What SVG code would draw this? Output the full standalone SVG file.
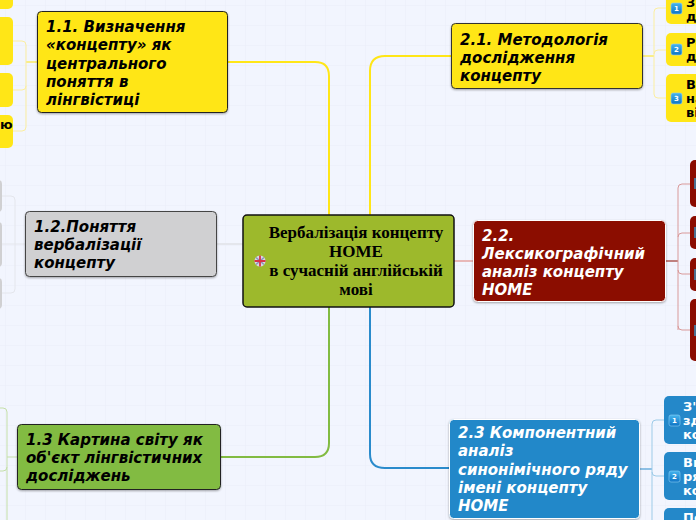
<svg xmlns="http://www.w3.org/2000/svg" width="696" height="520" viewBox="0 0 696 520">
<style>
.t{font-family:"DejaVu Sans",sans-serif;font-weight:bold;font-style:italic;font-size:15px;fill:#000}
.w{fill:#fff}
.s{font-family:"DejaVu Sans",sans-serif;font-weight:bold;font-size:13px;fill:#000}
.c{font-family:"Liberation Serif",serif;font-weight:bold;font-size:17px;fill:#000;text-anchor:middle}
.n{stroke-width:1;filter:url(#sh)}
.l{fill:none;stroke-width:1}
.m{fill:none;stroke-width:2}
.ib{fill:url(#ig);stroke:#8fd0f5;stroke-width:.6}
.it{font-family:"DejaVu Sans",sans-serif;font-weight:bold;font-size:7px;fill:#fff;text-anchor:middle}
</style>
<defs>
<pattern id="g" width="20" height="20" patternUnits="userSpaceOnUse" x="5" y="5"><path d="M20 0H0V20" fill="none" stroke="#e9edf8" stroke-width="1"/></pattern>
<linearGradient id="ig" x1="0" y1="0" x2="0" y2="1"><stop offset="0" stop-color="#45b4ee"/><stop offset="1" stop-color="#0f74c4"/></linearGradient>
<filter id="sh" x="-5%" y="-5%" width="110%" height="115%"><feDropShadow dx="0" dy="1" stdDeviation="1" flood-color="#000" flood-opacity=".35"/></filter>
</defs>
<rect width="696" height="520" fill="#f2f5fe"/>
<rect width="696" height="520" fill="url(#g)"/>
<g id="connectors">
<path class="m" stroke="#ffe617" d="M329 215V76Q329 62 315 62H228"/>
<path class="m" stroke="#ffe617" d="M370 215V71Q370 56 385 56H451"/>
<path class="m" stroke="#e4e6ec" d="M243 244H217"/>
<path class="m" stroke="#e8b8b8" d="M454 261H473"/>
<path class="m" stroke="#82bb42" d="M329 307V443Q329 457 315 457H221"/>
<path class="m" stroke="#2a8bcc" d="M370 307V454Q370 468 385 468H449"/>
<path class="l" stroke="#ffe617" stroke-width="2" d="M37 62H26"/>
<path class="l" stroke="#fbeea0" d="M13 41H22Q26 41 26 45V127Q26 131 22 131H13M26 86Q26 90 22 90H13"/>
<path class="l" stroke="#e4e6ec" d="M25 244H0M2 196H11Q15 196 15 200V289Q15 293 11 293H2"/>
<path class="l" stroke="#c4dfa8" d="M18 457H7M0 408H3Q7 408 7 412V520M7 467Q7 471 3 471H0"/>
<path class="l" stroke="#ffe617" stroke-width="2" d="M643 56H654"/>
<path class="l" stroke="#fbeea0" d="M666 8H658Q654 8 654 12V94Q654 98 658 98H666M654 54Q654 50 658 50H666"/>
<path class="l" stroke="#8b0c00" stroke-width="2" d="M666 261H678"/>
<path class="l" stroke="#d99a9a" d="M690 184H682Q678 184 678 188V330M690 233H682Q678 233 678 237M678 270Q678 274 682 274H690M678 326Q678 330 682 330H690"/>
<path class="l" stroke="#2a8bcc" stroke-width="2" d="M640 469H652"/>
<path class="l" stroke="#9dcbe8" d="M664 420H656Q652 420 652 424V520M652 472Q652 476 656 476H664"/>
</g>
<g id="left-leaf-yellow">
<rect x="-10" y="-10" width="23" height="19" rx="5" fill="#ffe617"/>
<rect x="-10" y="17" width="23" height="48" rx="5" fill="#ffe617"/>
<rect x="-10" y="73" width="23" height="34" rx="5" fill="#ffe617"/>
<rect x="-10" y="115" width="23" height="33" rx="5" fill="#ffe617"/>
<text class="s" x="0" y="129">ю</text>
</g>
<g id="left-leaf-grey">
<rect x="-10" y="180" width="12" height="32" rx="4" fill="#d0d0d2"/>
<rect x="-10" y="222" width="12" height="45" rx="4" fill="#d0d0d2"/>
<rect x="-10" y="278" width="12" height="31" rx="4" fill="#d0d0d2"/>
</g>
<g id="node-1-1">
<rect class="n" x="37.500" y="11.500" width="190" height="101" rx="4" fill="#ffe617" stroke="#222"/>
<text class="t"><tspan x="46" y="32">1.1. Визначення</tspan><tspan x="46" y="50">«концепту» як</tspan><tspan x="46" y="69">центрального</tspan><tspan x="46" y="87">поняття в</tspan><tspan x="46" y="105">лінгвістиці</tspan></text>
</g>
<g id="node-1-2">
<rect class="n" x="25.500" y="211.500" width="191" height="65" rx="4" fill="#d0d0d2" stroke="#444"/>
<text class="t"><tspan x="34" y="232">1.2.Поняття</tspan><tspan x="34" y="250">вербалізації</tspan><tspan x="34" y="268">концепту</tspan></text>
</g>
<g id="node-1-3">
<rect class="n" x="17.500" y="424.500" width="203" height="65" rx="4" fill="#82bb42" stroke="#222"/>
<text class="t"><tspan x="26" y="445">1.3 Картина світу як</tspan><tspan x="26" y="463">об'єкт лінгвістичних</tspan><tspan x="26" y="481">досліджень</tspan></text>
</g>
<g id="node-root">
<rect x="243" y="215" width="211" height="92" rx="4" fill="#9db92c" stroke="#111" stroke-width="1.500"/>
<text class="c"><tspan x="356" y="238">Вербалізація концепту</tspan><tspan x="356" y="257">HOME</tspan><tspan x="356" y="276">в сучасній англійській</tspan><tspan x="356" y="295">мові</tspan></text>
<g id="flag">
<circle cx="260" cy="261" r="5.500" fill="#d8dae6"/>
<path d="M256 257.500 264 264.500M256 264.500 264 257.500" stroke="#8d93b8" stroke-width="1.500"/>
<path d="M260 255.500V266.500M254.500 261H265.500" stroke="#d8344a" stroke-width="1.800"/>
</g>
</g>
<g id="node-2-1">
<rect class="n" x="451.500" y="23.500" width="191" height="65" rx="4" fill="#ffe617" stroke="#333"/>
<text class="t"><tspan x="460" y="45">2.1. Методологія</tspan><tspan x="460" y="63">дослідження</tspan><tspan x="460" y="81">концепту</tspan></text>
</g>
<g id="node-2-2">
<rect class="n" x="473.500" y="220.500" width="192" height="81" rx="4" fill="#8b0c00" stroke="#fff"/>
<text class="t w"><tspan x="482" y="241">2.2.</tspan><tspan x="482" y="259">Лексикографічний</tspan><tspan x="482" y="277">аналіз концепту</tspan><tspan x="482" y="295">HOME</tspan></text>
</g>
<g id="node-2-3">
<rect class="n" x="449.500" y="419.500" width="190" height="99" rx="4" fill="#2488c9" stroke="#fff"/>
<text class="t w"><tspan x="458" y="438">2.3 Компонентний</tspan><tspan x="458" y="456">аналіз</tspan><tspan x="458" y="475">синонімічного ряду</tspan><tspan x="458" y="493">імені концепту</tspan><tspan x="458" y="511">HOME</tspan></text>
</g>
<g id="right-leaf-yellow">
<rect x="666" y="-10" width="40" height="34" rx="5" fill="#ffe617"/>
<rect x="666" y="33" width="40" height="33" rx="5" fill="#ffe617"/>
<rect x="666" y="74" width="40" height="48" rx="5" fill="#ffe617"/>
<text class="s"><tspan x="686" y="7">З'</tspan><tspan x="686" y="21">до</tspan><tspan x="686" y="47">Ро</tspan><tspan x="686" y="61">до</tspan><tspan x="686" y="89">Ви</tspan><tspan x="686" y="103">на</tspan><tspan x="686" y="117">ві</tspan></text>
<rect class="ib" x="671" y="3" width="11" height="11" rx="2"/><text class="it" x="676.500" y="11">1</text>
<rect class="ib" x="671" y="44" width="11" height="11" rx="2"/><text class="it" x="676.500" y="52">2</text>
<rect class="ib" x="671" y="93" width="11" height="11" rx="2"/><text class="it" x="676.500" y="101">3</text>
</g>
<g id="right-leaf-maroon">
<rect x="690" y="160" width="16" height="47" rx="5" fill="#8b0c00"/>
<rect x="690" y="216" width="16" height="33" rx="5" fill="#8b0c00"/>
<rect x="690" y="258" width="16" height="33" rx="5" fill="#8b0c00"/>
<rect x="690" y="299" width="16" height="62" rx="5" fill="#8b0c00"/>
<rect x="694" y="178" width="4" height="11" fill="#4d6f8e"/>
<rect x="694" y="227" width="4" height="11" fill="#4d6f8e"/>
<rect x="694" y="269" width="4" height="11" fill="#4d6f8e"/>
<rect x="694" y="325" width="4" height="11" fill="#4d6f8e"/>
</g>
<g id="right-leaf-blue">
<rect x="664" y="396" width="42" height="48" rx="5" fill="#2488c9"/>
<rect x="664" y="452" width="42" height="48" rx="5" fill="#2488c9"/>
<rect x="664" y="508" width="42" height="30" rx="5" fill="#2488c9"/>
<text class="s w" style="fill:#fff"><tspan x="683" y="411">З'</tspan><tspan x="683" y="425">зд</tspan><tspan x="683" y="439">ко</tspan><tspan x="683" y="467">Ви</tspan><tspan x="683" y="481">ря</tspan><tspan x="683" y="495">ко</tspan><tspan x="683" y="522">По</tspan></text>
<rect class="ib" x="669" y="415" width="11" height="11" rx="2"/><text class="it" x="674.500" y="423">1</text>
<rect class="ib" x="669" y="471" width="11" height="11" rx="2"/><text class="it" x="674.500" y="479">2</text>
</g>
</svg>
